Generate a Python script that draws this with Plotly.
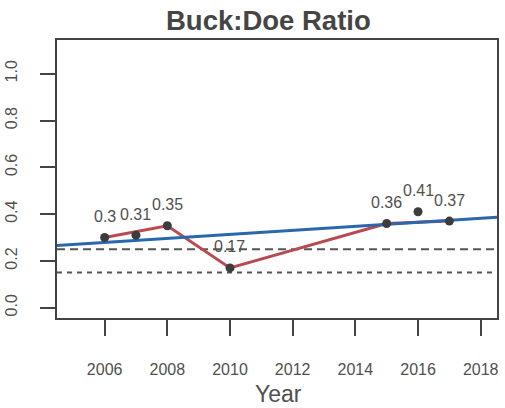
import numpy as np
import plotly.graph_objects as go

# Data
years = [2006, 2007, 2008, 2010, 2015, 2016, 2017]
ratios = [0.30, 0.31, 0.35, 0.17, 0.36, 0.41, 0.37]

line_years = [2006, 2008, 2010, 2015, 2017]
line_ratios = [0.30, 0.35, 0.17, 0.36, 0.37]

ref_levels = [0.25, 0.15]
ref_dashes = ["8px,5px", "5px,5px"]

x_ticks = [2006, 2008, 2010, 2012, 2014, 2016, 2018]
y_ticks = [0.0, 0.2, 0.4, 0.6, 0.8, 1.0]

x_range = [2004.48, 2018.52]
y_range = [-0.044, 1.144]

FONT = "Liberation Sans, Arial, sans-serif"
TXT = "#505050"
AX = "#444444"

W, H = 505, 408
ML, MR, MT, MB = 57, 8, 40, 90
PW, PH = W - ML - MR, H - MT - MB

slope, intercept = np.polyfit(years, ratios, 1)
trend_x = np.array(x_range)
trend_y = intercept + slope * trend_x

fig = go.Figure()

for lvl, dsh in zip(ref_levels, ref_dashes):
    fig.add_trace(go.Scatter(x=x_range, y=[lvl, lvl], mode="lines",
                             line=dict(color="#555555", width=2, dash=dsh),
                             hoverinfo="skip", showlegend=False))

fig.add_trace(go.Scatter(x=line_years, y=line_ratios, mode="lines",
                         line=dict(color="#b94a52", width=3),
                         showlegend=False))

fig.add_trace(go.Scatter(x=trend_x, y=trend_y, mode="lines",
                         line=dict(color="#2b67ac", width=3),
                         showlegend=False))

fig.add_trace(go.Scatter(x=years, y=ratios, mode="markers",
                         marker=dict(color="#3c3c3c", size=9),
                         showlegend=False))

annotations = []
for xv, yv in zip(years, ratios):
    annotations.append(dict(x=xv, y=yv, text=f"{yv:g}", showarrow=False,
                            yshift=21, font=dict(family=FONT, size=16, color=TXT)))

# title (centre ~ x=268, y=20 px) and axis title (centre ~ x=278, y=394 px)
annotations.append(dict(x=(268 - ML) / PW, y=(H - MB - 20) / PH, xref="paper", yref="paper",
                        xanchor="center", yanchor="middle",
                        text="<b>Buck:Doe Ratio</b>", showarrow=False,
                        font=dict(family=FONT, size=27.5, color="#454545")))
annotations.append(dict(x=(278 - ML) / PW, y=(H - MB - 394) / PH, xref="paper", yref="paper",
                        xanchor="center", yanchor="middle",
                        text="Year", showarrow=False,
                        font=dict(family=FONT, size=23, color=TXT)))

fig.update_layout(
    width=W, height=H,
    margin=dict(l=ML, r=MR, t=MT, b=MB, autoexpand=False),
    paper_bgcolor="white", plot_bgcolor="white",
    annotations=annotations,
)

fig.update_xaxes(range=x_range, tickvals=x_ticks, ticks="outside", ticklen=16,
                 tickwidth=2, tickcolor=AX, showline=True, mirror=True,
                 linecolor=AX, linewidth=2, showgrid=False, zeroline=False,
                 ticklabelstandoff=20, automargin=False,
                 tickfont=dict(family=FONT, size=16, color=TXT))
fig.update_yaxes(range=y_range, tickvals=y_ticks, ticktext=[f"{v:.1f}" for v in y_ticks],
                 ticks="outside", ticklen=15, tickwidth=2, tickcolor=AX,
                 showline=True, mirror=True, linecolor=AX, linewidth=2,
                 showgrid=False, zeroline=False, tickangle=-90,
                 ticklabelstandoff=17, automargin=False,
                 tickfont=dict(family=FONT, size=16, color=TXT))

fig.write_html("out.html", config={"displayModeBar": False})

# remove the browser's default page margin so the figure sits at (0, 0)
with open("out.html", "r", encoding="utf-8") as f:
    html = f.read()
html = html.replace("<head>", "<head><style>html,body{margin:0;padding:0;overflow:hidden;}</style>", 1)
with open("out.html", "w", encoding="utf-8") as f:
    f.write(html)
